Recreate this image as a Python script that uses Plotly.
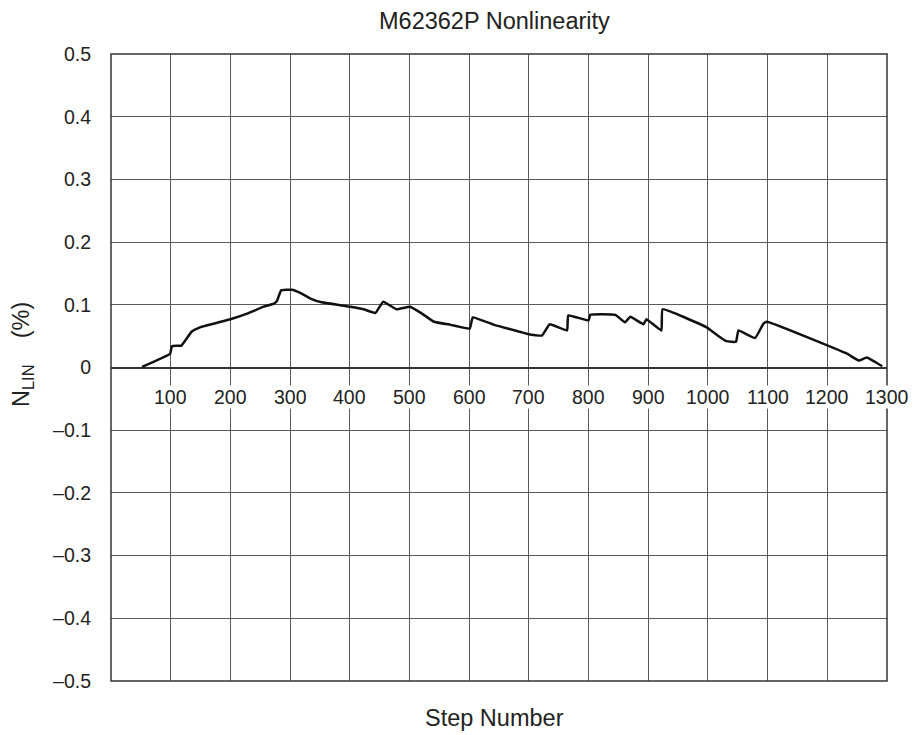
import plotly.graph_objects as go

steps = [52, 99, 102, 118, 135, 149, 200, 228, 256, 273, 278, 285, 303, 317, 334, 353,
         401, 423, 443, 456, 478, 501, 521, 541, 569, 601, 606, 642, 685, 700, 722, 735,
         764, 766, 800, 803, 845, 861, 870, 892, 897, 922, 924, 998, 1015, 1031, 1047,
         1051, 1079, 1093, 1099, 1233, 1253, 1266, 1292]
nlin = [0.001, 0.022, 0.034, 0.035, 0.057, 0.064, 0.077, 0.086, 0.097, 0.102, 0.106,
        0.123, 0.124, 0.119, 0.110, 0.104, 0.097, 0.093, 0.087, 0.105, 0.093, 0.097,
        0.086, 0.073, 0.068, 0.062, 0.080, 0.068, 0.057, 0.053, 0.051, 0.069, 0.059,
        0.083, 0.075, 0.084, 0.084, 0.072, 0.081, 0.069, 0.077, 0.059, 0.093, 0.064,
        0.052, 0.042, 0.041, 0.059, 0.047, 0.070, 0.073, 0.022, 0.011, 0.016, 0.002]

x_ticks = list(range(100, 1301, 100))
x_labels = [str(v) for v in x_ticks]
y_ticks = [0.5, 0.4, 0.3, 0.2, 0.1, 0, -0.1, -0.2, -0.3, -0.4, -0.5]
y_labels = ["0.5", "0.4", "0.3", "0.2", "0.1", "0", "–0.1", "–0.2", "–0.3", "–0.4", "–0.5"]

FONT = "Liberation Sans, Arial, sans-serif"
TXT = "#222222"
GRID = "#5a5a5a"

fig = go.Figure()
fig.add_trace(go.Scatter(x=steps, y=nlin, mode="lines",
                         line=dict(color="#111111", width=2.5, shape="spline", smoothing=0.3),
                         showlegend=False, hoverinfo="skip"))

fig.update_layout(
    width=913, height=735,
    margin=dict(l=111, r=26, t=54, b=54),
    paper_bgcolor="white", plot_bgcolor="white",
    font=dict(family=FONT, size=19.5, color=TXT),
    xaxis=dict(range=[0, 1300], tickvals=x_ticks, showticklabels=False,
               showline=False, zeroline=False,
               showgrid=True, gridcolor=GRID, gridwidth=1, ticks=""),
    yaxis=dict(range=[-0.5, 0.5], tickvals=y_ticks, ticktext=y_labels,
               showgrid=True, gridcolor=GRID, gridwidth=1,
               zeroline=True, zerolinecolor="#333333", zerolinewidth=1.5,
               showline=False, ticks="", ticklabelstandoff=19,
               tickfont=dict(size=19.5, color=TXT)),
)

fig.add_shape(type="rect", xref="x domain", yref="y domain", x0=0, x1=1, y0=0, y1=1,
              line=dict(color="#333333", width=1.5), fillcolor="rgba(0,0,0,0)")

# x tick labels sitting on the zero line
for v, lab in zip(x_ticks, x_labels):
    fig.add_annotation(text=lab, x=v, y=0, xref="x", yref="y", xanchor="center",
                       yanchor="middle", yshift=-29, showarrow=False, bgcolor="white",
                       borderpad=0, font=dict(size=19.5, color=TXT))

fig.add_annotation(text="M62362P Nonlinearity", xref="paper", yref="paper",
                   x=0.4948, y=1.0526, xanchor="center", yanchor="middle",
                   showarrow=False, font=dict(size=23.5, color=TXT))

fig.add_annotation(text="Step Number", xref="paper", yref="paper",
                   x=0.4948, y=-0.059, xanchor="center", yanchor="middle",
                   showarrow=False, font=dict(size=23.5, color=TXT))

fig.add_annotation(text="N<sub>LIN</sub>    (%)", xref="paper", yref="paper",
                   x=-0.1147, y=0.5215, xanchor="center", yanchor="middle",
                   textangle=-90, showarrow=False, font=dict(size=23.5, color=TXT))

fig.write_html("out.html", config={"displayModeBar": False},
               post_script="document.body.style.margin='0';document.body.style.overflow='hidden';")
